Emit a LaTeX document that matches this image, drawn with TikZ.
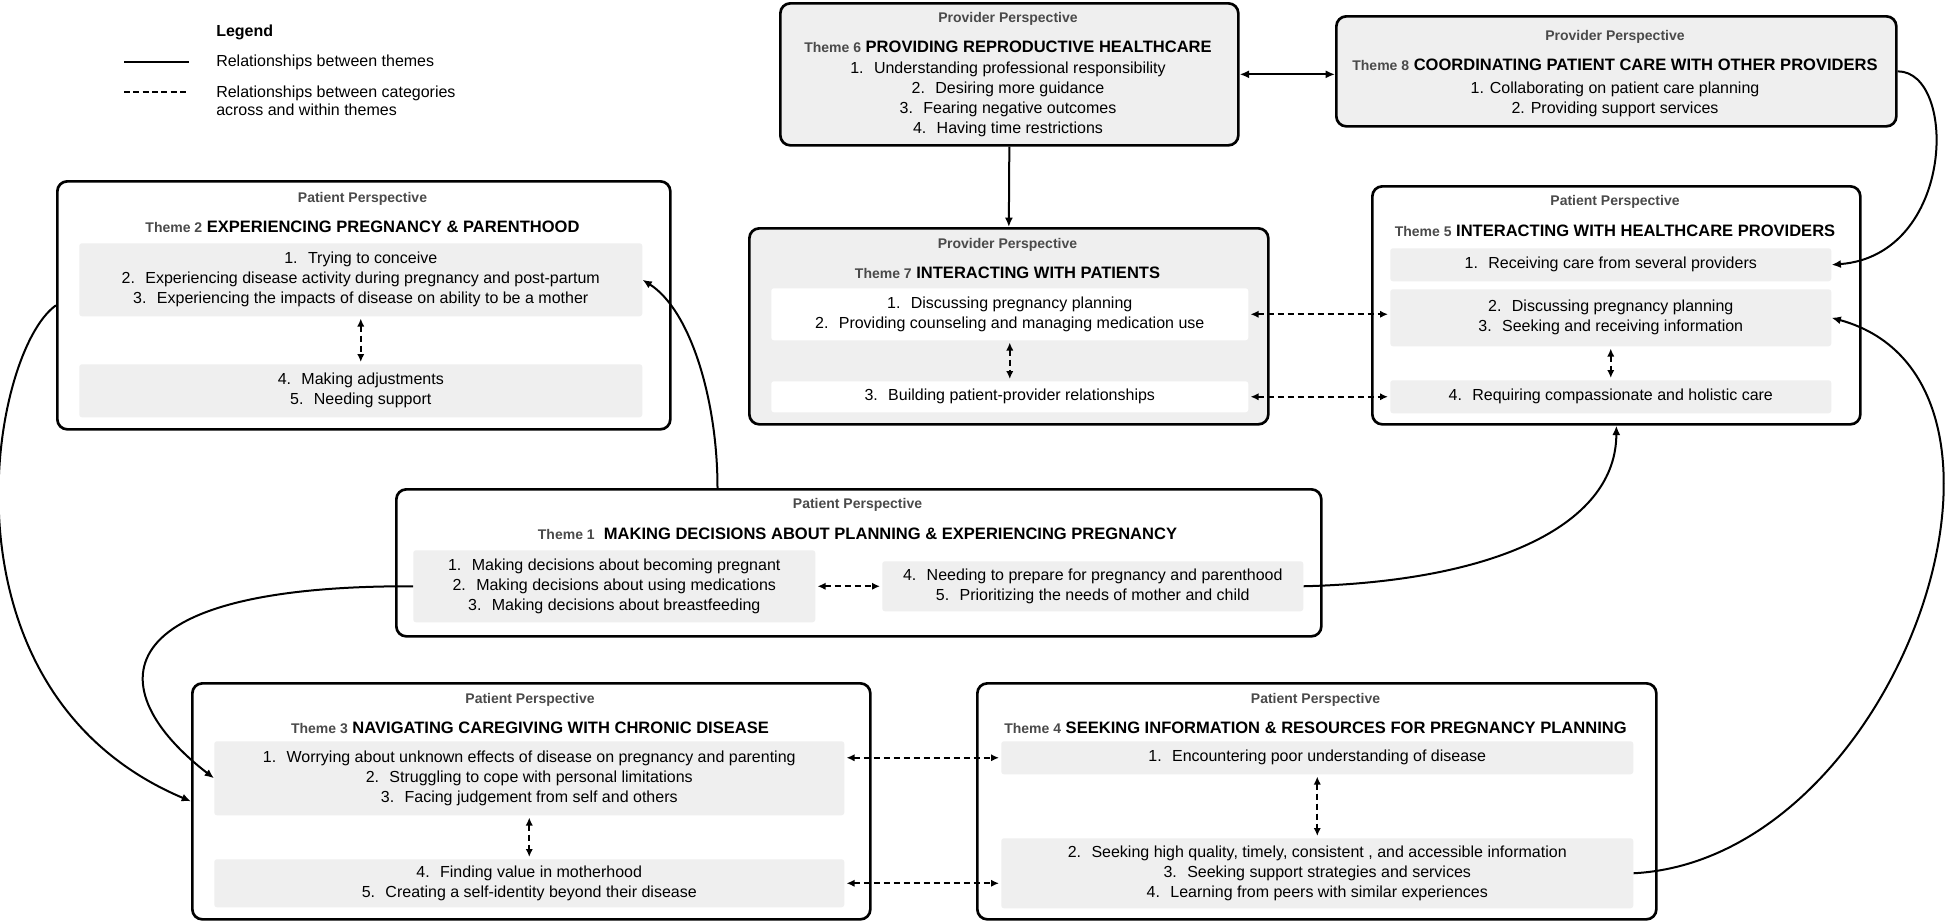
\documentclass[tikz,border=0pt]{standalone}
\usepackage{fontspec}
\setmainfont{Liberation Sans}
\usetikzlibrary{arrows.meta}
\definecolor{boxgray}{HTML}{EFEFEF}
\definecolor{labgray}{HTML}{4A4A4A}
\newcommand{\thmlabel}[1]{{\fontsize{10.5}{12}\selectfont\color{labgray}Theme #1}}

\begin{document}
\begin{tikzpicture}[x=0.75pt,y=0.75pt,yscale=-1,xscale=1,
  theme/.style={draw,line width=2pt,rounded corners=7.5pt,inner sep=0pt,anchor=north west},
  cat/.style={fill=boxgray,rounded corners=2pt,inner sep=0pt,anchor=north west,align=center,font=\fontsize{12}{15}\selectfont},
  persp/.style={font=\bfseries\fontsize{10.5}{12}\selectfont,text=labgray,inner sep=0pt},
  ttl/.style={font=\bfseries\fontsize{12.4}{14}\selectfont,inner sep=0pt},
  items/.style={align=center,inner sep=0pt,font=\fontsize{12}{15}\selectfont},
  rel/.style={line width=1.5pt,-{Latex[length=7pt,width=6pt]}},
  relboth/.style={line width=1.5pt,{Latex[length=7pt,width=6pt]}-{Latex[length=7pt,width=6pt]}},
  catrel/.style={line width=1.5pt,dash pattern=on 4.5pt off 3pt,{Latex[length=6pt,width=5.5pt]}-{Latex[length=6pt,width=5.5pt]},shorten <=1.5pt,shorten >=1.5pt}
]
\path[use as bounding box,fill=white] (0,0) rectangle (1946,921);

% Legend
\node[anchor=west,inner sep=0pt,font=\bfseries\fontsize{12}{14}\selectfont] (lg) at (216,32) {Legend};
\coordinate (lgA) at (124,62);
\coordinate (lgB) at (189,62);
\coordinate (lgC) at (124,92);
\coordinate (lgD) at (189,92);
\draw[line width=1.5pt] (lgA) -- (lgB);
\draw[line width=1.5pt,dash pattern=on 4.5pt off 2.5pt] (lgC) -- (lgD);
\node[anchor=west,inner sep=0pt,font=\fontsize{12}{13.5}\selectfont] (lg1) at (216,62) {Relationships between themes};
\node[anchor=west,inner sep=0pt,align=left,font=\fontsize{12}{13.5}\selectfont] (lg2) at (216,101) {Relationships between categories\\across and within themes};

% Theme boxes
\node[theme,fill=boxgray,minimum width=343.5pt,minimum height=106.5pt] (t6) at (779,2) {};
\node[theme,fill=boxgray,minimum width=420pt,minimum height=82.5pt] (t8) at (1335,15) {};
\node[theme,minimum width=459.75pt,minimum height=186pt] (t2) at (56,180) {};
\node[theme,fill=boxgray,minimum width=389.25pt,minimum height=147pt] (t7) at (748,227) {};
\node[theme,minimum width=366pt,minimum height=178.5pt] (t5) at (1371,185) {};
\node[theme,minimum width=693.75pt,minimum height=110.25pt] (t1) at (395,488) {};
\node[theme,minimum width=508.5pt,minimum height=177pt] (t3) at (191,682) {};
\node[theme,minimum width=509.25pt,minimum height=177pt] (t4) at (976,682) {};

% Theme 6
\node[persp] (t6p) at (1008,19) {Provider Perspective};
\node[ttl] (t6t) at (1008,47) {\thmlabel{6} PROVIDING REPRODUCTIVE HEALTHCARE};
\node[items] (t6i) at (1008,99.5) {1.~ Understanding professional responsibility\\2.~ Desiring more guidance\\3.~ Fearing negative outcomes\\4.~ Having time restrictions};

% Theme 8
\node[persp] (t8p) at (1615,37) {Provider Perspective};
\node[ttl] (t8t) at (1615,65) {\thmlabel{8} COORDINATING PATIENT CARE WITH OTHER PROVIDERS};
\node[items] (t8i) at (1615,99) {1. Collaborating on patient care planning\\2. Providing support services};

% Theme 2
\node[persp] (t2p) at (362.5,199) {Patient Perspective};
\node[ttl] (t2t) at (362.5,227) {\thmlabel{2} EXPERIENCING PREGNANCY \& PARENTHOOD};
\node[cat,minimum width=422.25pt,minimum height=54.75pt] (t2a) at (79,243) {1.~ Trying to conceive\\2.~ Experiencing disease activity during pregnancy and post-partum\\3.~ Experiencing the impacts of disease on ability to be a mother};
\node[cat,minimum width=422.25pt,minimum height=39.75pt] (t2b) at (79,364) {4.~ Making adjustments\\5.~ Needing support};

% Theme 7
\node[persp] (t7p) at (1007.5,245) {Provider Perspective};
\node[ttl] (t7t) at (1007.5,273) {\thmlabel{7} INTERACTING WITH PATIENTS};
\node[cat,fill=white,minimum width=357.75pt,minimum height=39pt] (t7a) at (771,288) {1.~ Discussing pregnancy planning\\2.~ Providing counseling and managing medication use};
\node[cat,fill=white,minimum width=357.75pt,minimum height=23.25pt] (t7b) at (771,381) {3.~ Building patient-provider relationships};

% Theme 5
\node[persp] (t5p) at (1615,202) {Patient Perspective};
\node[ttl] (t5t) at (1615,231) {\thmlabel{5} INTERACTING WITH HEALTHCARE PROVIDERS};
\node[cat,minimum width=330.75pt,minimum height=24.75pt] (t5a) at (1390,248) {1.~ Receiving care from several providers};
\node[cat,minimum width=330.75pt,minimum height=42.75pt] (t5b) at (1390,289) {2.~ Discussing pregnancy planning\\3.~ Seeking and receiving information};
\node[cat,minimum width=330.75pt,minimum height=24.75pt] (t5c) at (1390,380) {4.~ Requiring compassionate and holistic care};

% Theme 1
\node[persp] (t1p) at (857.5,505) {Patient Perspective};
\node[ttl] (t1t) at (857.5,534) {\thmlabel{1}~ MAKING DECISIONS ABOUT PLANNING \& EXPERIENCING PREGNANCY};
\node[cat,minimum width=301.5pt,minimum height=54pt] (t1a) at (413,550) {1.~ Making decisions about becoming pregnant\\2.~ Making decisions about using medications\\3.~ Making decisions about breastfeeding};
\node[cat,minimum width=315.75pt,minimum height=37.5pt] (t1b) at (882,561) {4.~ Needing to prepare for pregnancy and parenthood\\5.~ Prioritizing the needs of mother and child};

% Theme 3
\node[persp] (t3p) at (530,700) {Patient Perspective};
\node[ttl] (t3t) at (530,728) {\thmlabel{3} NAVIGATING CAREGIVING WITH CHRONIC DISEASE};
\node[cat,minimum width=472.5pt,minimum height=55.5pt] (t3a) at (214,741) {1.~ Worrying about unknown effects of disease on pregnancy and parenting\\2.~ Struggling to cope with personal limitations\\3.~ Facing judgement from self and others};
\node[cat,minimum width=472.5pt,minimum height=36pt] (t3b) at (214,859) {4.~ Finding value in motherhood\\5.~ Creating a self-identity beyond their disease};

% Theme 4
\node[persp] (t4p) at (1315.5,700) {Patient Perspective};
\node[ttl] (t4t) at (1315.5,728) {\thmlabel{4} SEEKING INFORMATION \& RESOURCES FOR PREGNANCY PLANNING};
\node[cat,minimum width=474pt,minimum height=24.75pt] (t4a) at (1001,741) {1.~ Encountering poor understanding of disease};
\node[cat,minimum width=474pt,minimum height=52.5pt] (t4b) at (1001,838) {2.~ Seeking high quality, timely, consistent , and accessible information\\3.~ Seeking support strategies and services\\4.~ Learning from peers with similar experiences};

% Relationships between themes
\draw[relboth] (t6.east) -- (t8.west |- t6.east);
\draw[rel] (t6.south) -- (t7.north);
\draw[rel] (t8.east) .. controls +(60,0) and +(124,-9.5) .. (t5a.east);
\draw[rel] (t4b.east) .. controls +(267,-14) and +(229,62.5) .. (t5b.east);
\draw[rel] (t1b.east) .. controls +(197,-5) and +(0,97) .. (t5.south);
\draw[rel] ([xshift=-106pt]t1.north) .. controls +(0,-88) and +(48,30.5) .. (t2a.east);
\draw[rel] (t1a.west) .. controls +(-313,-1) and +(-114,-88) .. (t3a.west);
\draw[rel] (t2.west) .. controls +(-66,46) and +(-261,-110) .. (t3.west);

% Relationships between categories
\draw[catrel] (t2a) -- (t2b);
\draw[catrel] (t7a) -- (t7b);
\draw[catrel] (t5b) -- (t5c);
\draw[catrel] (t3a) -- (t3b);
\draw[catrel] (t4a) -- (t4b);
\draw[catrel] (t1a) -- (t1b);
\draw[catrel] (t7a.east) -- (t5b.west |- t7a.east);
\draw[catrel] (t7b) -- (t5c);
\draw[catrel] (t3a.east |- t4a.west) -- (t4a.west);
\draw[catrel] (t3b.east) -- (t4b.west |- t3b.east);

\end{tikzpicture}
\end{document}
